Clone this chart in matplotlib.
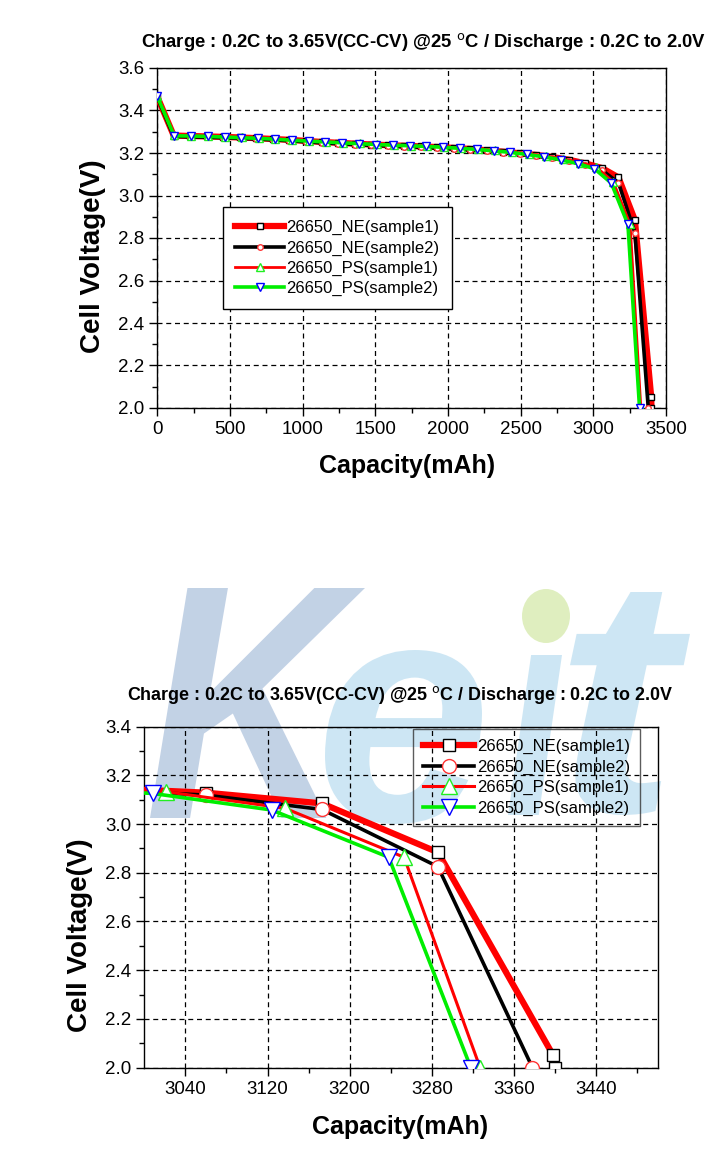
import matplotlib
matplotlib.use('Agg')
import matplotlib.pyplot as plt
from matplotlib.textpath import TextPath
from matplotlib.font_manager import FontProperties
from matplotlib.patches import PathPatch, Ellipse
from matplotlib.transforms import Affine2D, IdentityTransform
from matplotlib.ticker import MultipleLocator

plt.rcParams['font.family'] = ['Liberation Sans', 'DejaVu Sans']

# ---- data ----
ne1_cap = [0, 113, 227, 340, 453, 567, 680, 793, 906, 1020, 1133, 1246, 1360, 1473, 1586, 1700,
           1813, 1926, 2039, 2153, 2266, 2379, 2493, 2606, 2719, 2833, 2946, 3060, 3173, 3286, 3398, 3400]
ne1_v = [3.465, 3.282, 3.280, 3.278, 3.276, 3.273, 3.270, 3.266, 3.262, 3.257, 3.252, 3.248, 3.244, 3.240, 3.237, 3.234,
         3.231, 3.228, 3.224, 3.219, 3.213, 3.206, 3.199, 3.191, 3.181, 3.168, 3.151, 3.129, 3.085, 2.884, 2.052, 2.0]

ne2_cap = [0, 113, 227, 340, 453, 567, 680, 793, 906, 1020, 1133, 1246, 1360, 1473, 1586, 1700,
           1813, 1926, 2039, 2153, 2266, 2379, 2493, 2606, 2719, 2833, 2946, 3060, 3173, 3286, 3378]
ne2_v = [3.462, 3.278, 3.276, 3.274, 3.272, 3.269, 3.266, 3.262, 3.258, 3.253, 3.248, 3.244, 3.240, 3.236, 3.233, 3.230,
         3.227, 3.223, 3.219, 3.214, 3.208, 3.201, 3.194, 3.186, 3.176, 3.162, 3.143, 3.119, 3.060, 2.825, 2.0]

ps1_cap = [0, 116, 232, 349, 465, 581, 697, 813, 930, 1046, 1162, 1278, 1394, 1511, 1627, 1743,
           1859, 1975, 2092, 2208, 2324, 2440, 2556, 2673, 2789, 2905, 3021, 3137, 3253, 3327]
ps1_v = [3.468, 3.284, 3.282, 3.280, 3.277, 3.274, 3.271, 3.267, 3.262, 3.257, 3.253, 3.249, 3.245, 3.241, 3.238, 3.235,
         3.232, 3.228, 3.224, 3.219, 3.212, 3.205, 3.196, 3.186, 3.172, 3.155, 3.133, 3.065, 2.864, 2.0]

ps2_cap = [0, 116, 231, 347, 463, 579, 694, 810, 926, 1041, 1157, 1273, 1388, 1504, 1620, 1736,
           1851, 1967, 2083, 2198, 2314, 2430, 2545, 2661, 2777, 2893, 3008, 3124, 3238, 3318]
ps2_v = [3.466, 3.281, 3.280, 3.278, 3.275, 3.272, 3.269, 3.265, 3.260, 3.256, 3.252, 3.248, 3.244, 3.240, 3.237, 3.234,
         3.231, 3.227, 3.222, 3.217, 3.210, 3.203, 3.193, 3.182, 3.168, 3.150, 3.126, 3.058, 2.864, 2.0]

labels = ['26650_NE(sample1)', '26650_NE(sample2)', '26650_PS(sample1)', '26650_PS(sample2)']
title = 'Charge : 0.2C to 3.65V(CC-CV) @25 $^{\\mathrm{o}}$C / Discharge : 0.2C to 2.0V'

W, H = 712, 1175
fig = plt.figure(figsize=(W / 100, H / 100), dpi=100)

# ---- watermark logo (behind the lower chart), one letter at a time ----
fp = FontProperties(family='Liberation Sans', weight='bold', style='italic')
logo = [('K', (150, 365, 588, 818), '#bccde3'),
        ('e', (325, 482, 650, 824), '#c8e4f3'),
        ('\u0131', (508, 562, 655, 815), '#c8e4f3'),
        ('t', (570, 690, 592, 815), '#c8e4f3')]
for ch, (x0, x1, ytop, ybot), col in logo:
    tp = TextPath((0, 0), ch, size=1, prop=fp)
    ext = tp.get_extents()
    tr = (Affine2D().translate(-ext.x0, -ext.y0)
          .scale((x1 - x0) / ext.width, (ybot - ytop) / ext.height)
          .translate(x0, H - ybot))
    fig.patches.append(PathPatch(tr.transform_path(tp), facecolor=col, edgecolor='none', alpha=0.9,
                                 transform=IdentityTransform(), zorder=-5))
fig.patches.append(Ellipse((546, H - 616), 48, 54, facecolor='#dcedb8', edgecolor='none', alpha=0.9,
                           transform=IdentityTransform(), zorder=-4))


def draw(ax, big):
    ms_sq, ms_ci, ms_tr = (9, 10, 11) if big else (4, 4, 5.5)
    lw1, lw2, lw3, lw4 = (4.5, 2.6, 2.2, 2.6) if big else (4.5, 2.6, 2.0, 2.6)
    ax.plot(ne1_cap, ne1_v, color='#ff0000', lw=lw1, marker='s', ms=ms_sq, mfc='white', mec='black',
            mew=1.0, label=labels[0], zorder=3)
    ax.plot(ne2_cap, ne2_v, color='black', lw=lw2, marker='o', ms=ms_ci, mfc='white', mec='#ff3333',
            mew=1.0, label=labels[1], zorder=4)
    ax.plot(ps1_cap, ps1_v, color='#ff0000', lw=lw3, marker='^', ms=ms_tr, mfc='white', mec='#22ee22',
            mew=1.0, label=labels[2], zorder=5)
    ax.plot(ps2_cap, ps2_v, color='#00ee00', lw=lw4, marker='v', ms=ms_tr, mfc='white', mec='#0000ff',
            mew=1.0, label=labels[3], zorder=6)
    ax.grid(True, which='major', color='black', linestyle='--', linewidth=0.9, dashes=(4, 3))
    ax.set_axisbelow(True)
    ax.tick_params(axis='both', which='both', direction='out', top=False, right=False,
                   labelsize=13.5, width=1.0)
    ax.tick_params(which='major', length=6)
    ax.tick_params(which='minor', length=3.5)
    for s in ax.spines.values():
        s.set_linewidth(1.0)
    ax.yaxis.set_major_locator(MultipleLocator(0.2))
    ax.yaxis.set_major_formatter(plt.FormatStrFormatter('%.1f'))
    ax.yaxis.set_minor_locator(MultipleLocator(0.1))


# ---- upper chart ----
ax1 = fig.add_axes([157.3 / W, 1 - 408 / H, 508.7 / W, 340 / H])
draw(ax1, False)
ax1.set_xlim(0, 3500)
ax1.set_ylim(2.0, 3.6)
ax1.xaxis.set_major_locator(MultipleLocator(500))
ax1.xaxis.set_minor_locator(MultipleLocator(250))
leg1 = ax1.legend(loc='upper left', bbox_to_anchor=(0.129, 0.59), fontsize=12, frameon=True,
                  fancybox=False, edgecolor='black', framealpha=1, handlelength=2.9,
                  labelspacing=0.32, borderpad=0.75, handletextpad=0.15, borderaxespad=0)
leg1.get_frame().set_linewidth(1.0)
fig.text(424 / W, 1 - 42 / H, title, ha='center', va='center', fontsize=13.3, fontweight='bold')
fig.text(407 / W, 1 - 466 / H, 'Capacity(mAh)', ha='center', va='center', fontsize=18, fontweight='bold')
fig.text(93 / W, 1 - 256 / H, 'Cell Voltage(V)', ha='center', va='center', rotation=90,
         fontsize=20, fontweight='bold')

# ---- lower (zoomed) chart ----
ax2 = fig.add_axes([144.3 / W, 1 - 1067.6 / H, 513.4 / W, 340.9 / H])
ax2.set_facecolor('none')
draw(ax2, True)
ax2.set_xlim(3000, 3500)
ax2.set_ylim(2.0, 3.4)
ax2.set_xticks([3040, 3120, 3200, 3280, 3360, 3440])
ax2.set_xticks([3080, 3160, 3240, 3320, 3400, 3480], minor=True)
leg2 = ax2.legend(loc='upper left', bbox_to_anchor=(0.523, 0.993), fontsize=12, frameon=True,
                  fancybox=False, edgecolor='#333333', facecolor='none', handlelength=3.1,
                  labelspacing=0.32, borderpad=0.6, handletextpad=0.15, borderaxespad=0)
leg2.get_frame().set_linewidth(1.0)
fig.text(400 / W, 1 - 695 / H, title, ha='center', va='center', fontsize=12.9, fontweight='bold')
fig.text(400 / W, 1 - 1127 / H, 'Capacity(mAh)', ha='center', va='center', fontsize=18, fontweight='bold')
fig.text(80 / W, 1 - 935 / H, 'Cell Voltage(V)', ha='center', va='center', rotation=90,
         fontsize=20, fontweight='bold')

fig.savefig('out.png', dpi=100)
